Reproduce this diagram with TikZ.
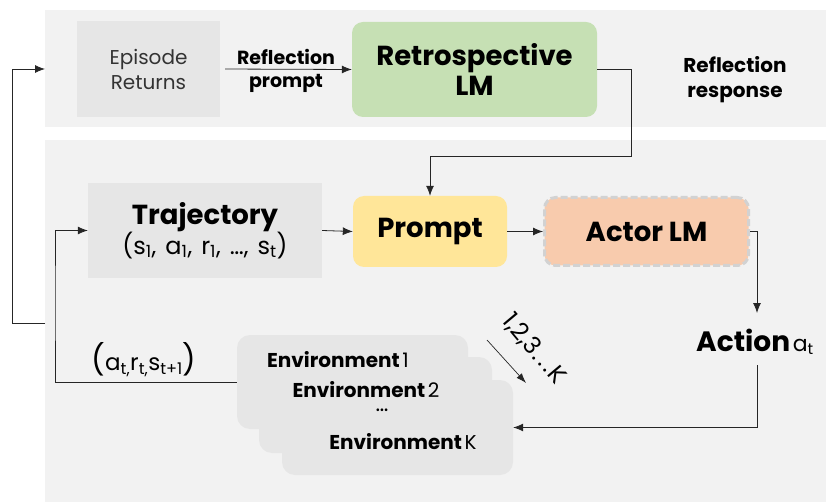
\documentclass[tikz,border=0pt]{standalone}
\usepackage{fontspec}
\setmainfont{Poppins}
\usetikzlibrary{arrows.meta}
\definecolor{bandgray}{HTML}{F2F2F2}
\definecolor{boxgray}{HTML}{E6E6E6}
\definecolor{retrogreen}{HTML}{C6E0B4}
\definecolor{promptyellow}{HTML}{FFE699}
\definecolor{actororange}{HTML}{F8CBAD}
\definecolor{dashgray}{HTML}{D2D2D2}
\definecolor{linegray}{HTML}{262626}
\tikzset{
  band/.style={fill=bandgray, draw=none, inner sep=0pt, anchor=north west},
  plainbox/.style={fill=boxgray, draw=none, inner sep=0pt, align=center},
  roundbox/.style={draw=none, inner sep=0pt, align=center, rounded corners=11pt},
  envbox/.style={fill=boxgray, draw=none, inner sep=0pt, rounded corners=13pt},
  bigtext/.style={font=\fontsize{27.5}{30}\selectfont\bfseries},
  midtext/.style={font=\fontsize{20}{25}\selectfont},
  midbold/.style={font=\fontsize{19}{24}\selectfont\bfseries},
  link/.style={draw=linegray, line width=0.8pt},
  arrow/.style={link, -{Latex[length=10pt,width=8pt]}},
}
\newcommand{\envlabel}[1]{{\fontsize{20}{22}\selectfont\bfseries Environment} {\fontsize{20}{22}\selectfont #1}}
\begin{document}
\begin{tikzpicture}[x=1pt, y=-1pt]
\useasboundingbox (0,0) rectangle (826,502);

% the two background bands
\node[band, minimum width=781pt, minimum height=117pt] (topband) at (45,10) {};
\node[band, minimum width=781pt, minimum height=362pt] (botband) at (45,140) {};

% reflection stage
\node[plainbox, midtext, minimum width=143pt, minimum height=96pt, text=black!80] (ep) at (148.5,69) {Episode\\Returns};
\node[roundbox, bigtext, fill=retrogreen, minimum width=245pt, minimum height=95pt] (retro) at (474.5,69.5) {Retrospective\\LM};
\node[align=center, font=\fontsize{20}{25}\selectfont\bfseries] (resp) at (735,80) {Reflection\\response};

% acting stage
\node[plainbox, minimum width=234pt, minimum height=95pt] (traj) at (205,230.5)
  {{\fontsize{27.5}{30}\selectfont\bfseries Trajectory}\\[-1pt]
   {\fontsize{24}{26}\selectfont\spaceskip=9pt (s\textsubscript{1}, a\textsubscript{1}, r\textsubscript{1}, …, s\textsubscript{t})}};
\node[roundbox, bigtext, fill=promptyellow, minimum width=154pt, minimum height=71pt] (prompt) at (430,231.5) {Prompt};
\node[roundbox, bigtext, fill=actororange, draw=dashgray, dash pattern=on 7pt off 3pt, line width=3pt, minimum width=204pt, minimum height=68pt] (actor) at (646.5,231.5) {Actor LM};
\node[inner sep=0pt] (action) at (755,342)
  {{\fontsize{28}{30}\selectfont\bfseries Action} {\fontsize{22}{24}\selectfont a\textsubscript{t}}};
\coordinate (actin) at (757,313);
\coordinate (actout) at (757,365);

% stacked environments
\node[envbox, minimum width=231pt, minimum height=94pt] (env1) at (352.5,382) {};
\node[envbox, minimum width=233pt, minimum height=96pt] (env2) at (375.5,405) {};
\node[envbox, minimum width=231pt, minimum height=95pt] (envK) at (397.5,427.5) {};
\node[inner sep=0pt] (env1t) at (338,360) {\envlabel{1}};
\node[inner sep=0pt] (env2t) at (366,390) {\envlabel{2}};
\node[inner sep=0pt, font=\fontsize{22}{24}\selectfont] (envdots) at (382,410) {…};
\node[inner sep=0pt] (envKt) at (403,442) {\envlabel{K}};

% feedback tuple
\node[inner sep=0pt, font=\fontsize{23}{26}\selectfont] (tuple) at (144,360)
  {{\fontsize{30}{32}\selectfont (}a\textsubscript{t,}r\textsubscript{t,}s\textsubscript{t+1}{\fontsize{30}{32}\selectfont )}};

% parallel rollout indicator
\coordinate (d1) at (487,340);
\coordinate (d2) at (526,383);
\draw[link, line width=0.7pt, -{Latex[length=10pt,width=7pt]}] (d1) -- (d2);
\node[inner sep=0pt, rotate=-50, font=\fontsize{24}{26}\selectfont] (klabel) at (534,349) {1,2,3\kern2pt.\kern3pt.\kern3pt.\kern1ptK};

% connectors
\draw[arrow, shorten <=5pt] (ep.east) -- (retro.west)
  node[midway, above=1pt, midbold] (rp1) {Reflection}
  node[midway, below=1pt, midbold] (rp2) {prompt};
\coordinate (c1) at (631,156);
\draw[arrow] (retro.east) -| (c1) -| (prompt.north);
\draw[arrow] (traj.east) -- (prompt.west);
\draw[arrow] (prompt.east) -- (actor.west);
\draw[arrow] (actor.east) -| (actin);
\draw[arrow] (actout) |- (envK.east);

% inner loop back to the trajectory
\coordinate (c2) at (55,300);
\draw[arrow] (env1.west) -| (c2) |- (traj.west);

% outer loop back to the episode returns
\coordinate (o1) at (45,323);
\coordinate (o2) at (12,323);
\coordinate (o3) at (45,69);
\draw[arrow] (o1) -- (o2) |- (o3);
\end{tikzpicture}
\end{document}
